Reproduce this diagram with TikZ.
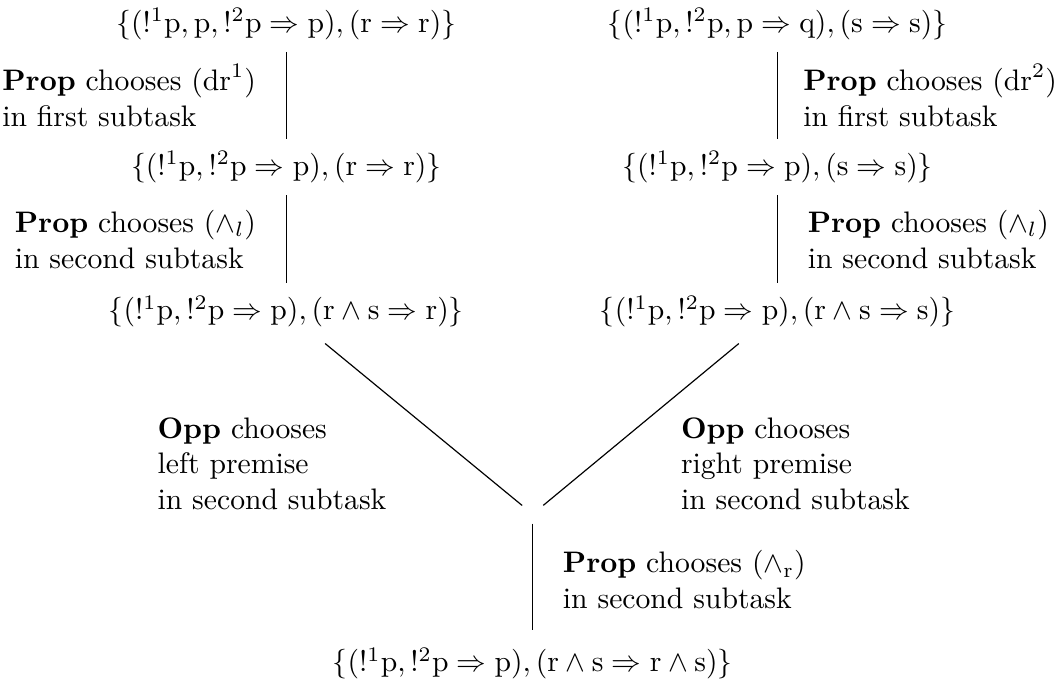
\documentclass[tikz,border=0pt]{standalone}
\usepackage{tikz}

\newcommand{\Prop}{\textbf{Prop}}
\newcommand{\Opp}{\textbf{Opp}}

\begin{document}
\begin{tikzpicture}[seq/.style={inner sep=4pt}, lbl/.style={align=left, inner sep=0pt}]
  \useasboundingbox (0,0) rectangle (12.58,-8.08);
  % sequents, read from top to bottom
  \node[seq] (topL) at (3.39,-0.28) {$\mathrm{\{(!^1p, p, !^2p \Rightarrow p), (r \Rightarrow r)\}}$};
  \node[seq] (topR) at (9.21,-0.28) {$\mathrm{\{(!^1p, !^2p, p \Rightarrow q), (s \Rightarrow s)\}}$};
  \node[seq] (midL) at (3.39,-1.98) {$\mathrm{\{(!^1p, !^2p \Rightarrow p), (r \Rightarrow r)\}}$};
  \node[seq] (midR) at (9.21,-1.98) {$\mathrm{\{(!^1p, !^2p \Rightarrow p), (s \Rightarrow s)\}}$};
  \node[seq] (lowL) at (3.39,-3.69) {$\mathrm{\{(!^1p, !^2p \Rightarrow p), (r \wedge s \Rightarrow r)\}}$};
  \node[seq] (lowR) at (9.21,-3.69) {$\mathrm{\{(!^1p, !^2p \Rightarrow p), (r \wedge s \Rightarrow s)\}}$};
  \node[inner sep=0pt, minimum width=6.7pt, minimum height=6pt] (join) at (6.31,-6.09) {};
  \node[seq] (bot) at (6.31,-7.86) {$\mathrm{\{(!^1p, !^2p \Rightarrow p), (r \wedge s \Rightarrow r \wedge s)\}}$};

  \draw (topL) -- node[lbl, midway, left=10pt] {\Prop{} chooses $(\mathrm{dr}^1)$\\in first subtask} (midL);
  \draw (topR) -- node[lbl, midway, right=8.5pt] {\Prop{} chooses $(\mathrm{dr}^2)$\\in first subtask} (midR);
  \draw (midL) -- node[lbl, midway, left=10pt] {\Prop{} chooses $(\wedge_l)$\\in second subtask} (lowL);
  \draw (midR) -- node[lbl, midway, right=10pt] {\Prop{} chooses $(\wedge_l)$\\in second subtask} (lowR);
  \draw[shorten <=2pt] (lowL) -- (join);
  \draw[shorten <=2pt] (lowR) -- (join);
  \draw[shorten >=1.7pt] (join) -- node[lbl, midway, right=10pt] {\Prop{} chooses $(\wedge_{\mathrm{r}})$\\in second subtask} (bot);

  \node[lbl, anchor=west] (oppL) at (1.86,-5.49) {\Opp{} chooses\\left premise\\in second subtask};
  \node[lbl, anchor=west] (oppR) at (8.06,-5.49) {\Opp{} chooses\\right premise\\in second subtask};
\end{tikzpicture}
\end{document}
